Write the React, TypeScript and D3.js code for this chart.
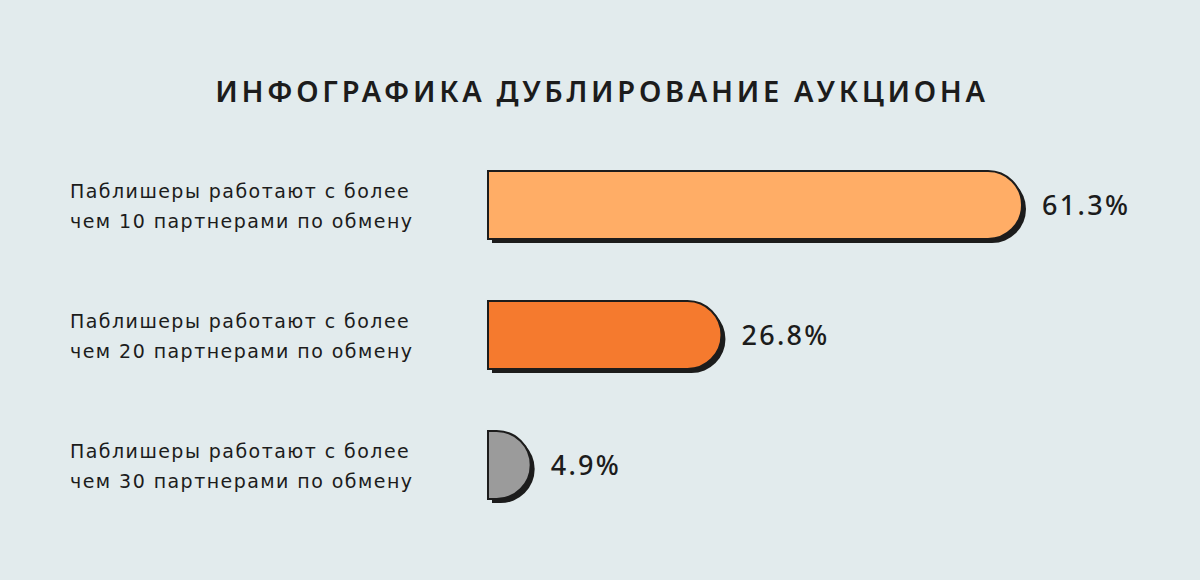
import { useEffect, useRef } from 'react'
import * as d3 from 'd3'

const title = 'ИНФОГРАФИКА ДУБЛИРОВАНИЕ АУКЦИОНА'
const categories = [
  ['Паблишеры работают с более', 'чем 10 партнерами по обмену'],
  ['Паблишеры работают с более', 'чем 20 партнерами по обмену'],
  ['Паблишеры работают с более', 'чем 30 партнерами по обмену'],
]
const values = [61.3, 26.8, 4.9]
const barColors = ['#FFAD66', '#F57A2E', '#9B9B9B']

export default function App() {
  const svgRef = useRef<SVGSVGElement>(null)

  useEffect(() => {
    document.body.style.margin = '0'
    if (!svgRef.current) return

    const svg = d3.select(svgRef.current)
    svg.selectAll('*').remove()

    const width = 1200
    const height = 580
    const barLeft = 488
    const barHeight = 68
    const ink = '#1c1c1c'

    svg.attr('width', width).attr('height', height)

    svg.append('rect')
      .attr('width', width)
      .attr('height', height)
      .attr('fill', '#E2EBED')

    svg.append('text')
      .attr('x', width / 2 + 2)
      .attr('y', 102)
      .attr('text-anchor', 'middle')
      .attr('font-family', 'Noto Sans')
      .attr('font-weight', 600)
      .attr('font-size', 29)
      .attr('letter-spacing', 3.7)
      .attr('fill', ink)
      .text(title)

    const xScale = d3.scaleLinear().domain([0, 61.3]).range([0, 534])
    const yScale = d3.scalePoint<number>()
      .domain(values.map((_, i) => i))
      .range([205, 465])

    const barPath = (w: number, cy: number) => {
      const top = cy - barHeight / 2
      const bottom = cy + barHeight / 2
      const x1 = barLeft + w
      const r = Math.min(barHeight / 2, w)
      const p = d3.path()
      p.moveTo(barLeft, top)
      p.lineTo(x1 - r, top)
      p.arcTo(x1, top, x1, top + r, r)
      p.lineTo(x1, bottom - r)
      p.arcTo(x1, bottom, x1 - r, bottom, r)
      p.lineTo(barLeft, bottom)
      p.closePath()
      return p.toString()
    }

    values.forEach((v, i) => {
      const cy = yScale(i) || 0
      const w = xScale(v)
      const g = svg.append('g')

      // offset shadow
      g.append('path')
        .attr('d', barPath(w, cy))
        .attr('transform', 'translate(4,4)')
        .attr('fill', ink)

      g.append('path')
        .attr('d', barPath(w, cy))
        .attr('fill', barColors[i])
        .attr('stroke', ink)
        .attr('stroke-width', 2)

      g.append('text')
        .attr('x', barLeft + w + 20)
        .attr('y', cy + 10)
        .attr('font-family', 'Noto Sans')
        .attr('font-weight', 500)
        .attr('font-size', 27)
        .attr('letter-spacing', 2.3)
        .attr('fill', ink)
        .text(`${v}%`)

      const label = g.append('text')
        .attr('font-family', 'DejaVu Sans')
        .attr('font-size', 19)
        .attr('letter-spacing', 1.45)
        .attr('fill', ink)
      categories[i].forEach((line, j) => {
        label.append('tspan')
          .attr('x', 70)
          .attr('y', cy - 7 + j * 30)
          .text(line)
      })
    })
  }, [])

  return <svg ref={svgRef} style={{ display: 'block' }} />
}
